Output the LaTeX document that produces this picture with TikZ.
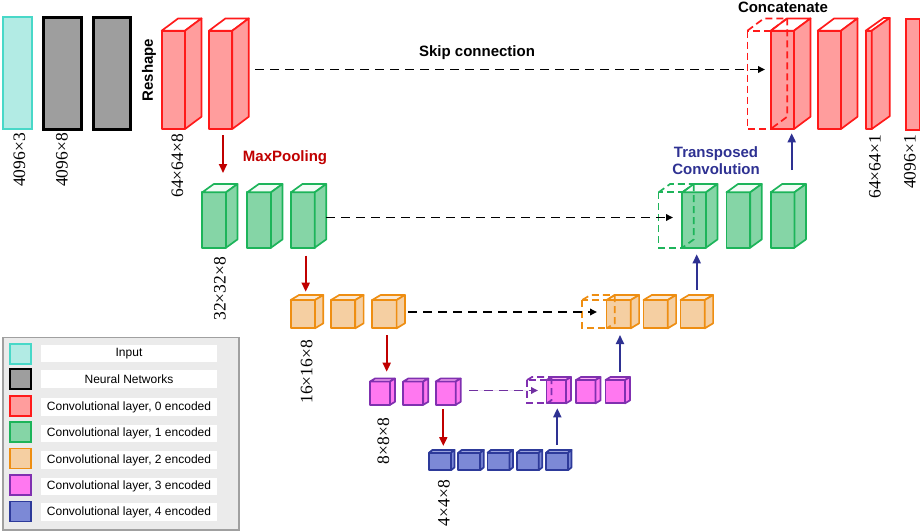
\documentclass[tikz,border=0pt]{standalone}
\usepackage{fontspec}
\setmainfont{Liberation Serif}
\setsansfont{Liberation Sans}
\usetikzlibrary{arrows.meta}
\definecolor{cyanF}{HTML}{B2EBE4}\definecolor{cyanL}{HTML}{48D8C8}
\definecolor{grayF}{HTML}{9E9E9E}\definecolor{grayL}{HTML}{000000}
\definecolor{redF}{HTML}{FF9D9D}\definecolor{redL}{HTML}{FF1A1A}\definecolor{redT}{HTML}{FFFFFF}
\definecolor{greenF}{HTML}{85D5A6}\definecolor{greenL}{HTML}{1DB45A}\definecolor{greenT}{HTML}{F2FBF5}
\definecolor{orangeF}{HTML}{F5CFA2}\definecolor{orangeL}{HTML}{EE8E12}\definecolor{orangeT}{HTML}{FBE9D4}
\definecolor{magF}{HTML}{FF78F0}\definecolor{magL}{HTML}{8030B0}\definecolor{magT}{HTML}{FFB0F6}
\definecolor{blueF}{HTML}{7C89D6}\definecolor{blueL}{HTML}{2D3A9A}\definecolor{blueT}{HTML}{A9B2E6}
\definecolor{arrRed}{HTML}{C00000}
\definecolor{arrBlue}{HTML}{2E3192}
\definecolor{arrPurple}{HTML}{7030A0}
\definecolor{legBg}{HTML}{EBEBEB}\definecolor{legLine}{HTML}{A0A0A0}
\tikzset{
  blkline/.style={line width=1.7pt, line join=round},
  ghostline/.style={line width=1.7pt, dash pattern=on 7pt off 4pt},
  dimlabel/.style={rotate=90, anchor=east, inner sep=0pt, font=\fontsize{17.5}{19}\selectfont},
  boldlabel/.style={inner sep=0pt, font=\sffamily\bfseries\fontsize{15}{17}\selectfont},
  downarrow/.style={arrRed, line width=1.9pt, -{Triangle[length=9pt,width=8pt]}},
  uparrow/.style={arrBlue, line width=1.9pt, -{Triangle[length=9pt,width=8pt]}},
  skiparrow/.style={black, line width=1.8pt, dash pattern=on 8.5pt off 6.5pt, -{Triangle[length=7pt,width=6.5pt]}},
  swatch/.style={minimum width=21pt, minimum height=20pt, inner sep=0pt, line width=1.6pt},
  lbox/.style={fill=white, minimum width=176.6pt, minimum height=17.5pt, inner sep=0pt, font=\sffamily\fontsize{12}{14}\selectfont},
  bar/.style={minimum width=#1, minimum height=112pt, inner sep=0pt, anchor=north west},
}
% 3D block: x y w h dx dy colourprefix
\newcommand{\blk}[7]{%
  \filldraw[blkline, fill=#7F, draw=#7L] (#1,#2) rectangle ++(#3,#4);
  \filldraw[blkline, fill=#7T, draw=#7L] (#1,#2) -- ++(#5,-#6) -- ++(#3,0) -- ++(-#5,#6) -- cycle;
  \filldraw[blkline, fill=#7F, draw=#7L] (#1,#2) ++(#3,0) -- ++(#5,-#6) -- ++(0,#4) -- ++(-#5,#6) -- cycle;
}
% dashed ghost block, shifted left by its width
\newcommand{\ghostblk}[7]{%
  \draw[ghostline, draw=#7L] ({#1-#3},#2) rectangle ++(#3,#4);
  \draw[ghostline, draw=#7L] ({#1-#3},#2) -- ++(#5,-#6) -- ++(#3,0) -- ++(-#5,#6);
  \draw[ghostline, draw=#7L] (#1,#2) ++(#5,-#6) -- ++(0,#4) -- ++(-#5,#6);
}
\begin{document}
\begin{tikzpicture}[x=1pt,y=-1pt]
\useasboundingbox (0,0) rectangle (920,530);

% ---- input and neural network bars
\node[bar=29pt, fill=cyanF, draw=cyanL, line width=1.6pt] (inp) at (2,16) {};
\node[bar=38pt, fill=grayF, draw=grayL, line width=2.6pt] (nn1) at (42,16) {};
\node[bar=37pt, fill=grayF, draw=grayL, line width=2.6pt] (nn2) at (92,16) {};
\node[dimlabel] (l0) at (19.5,133) {4096×3};
\node[dimlabel] (l1) at (62,133) {4096×8};
\node[boldlabel, rotate=90] (reshape) at (149,70) {Reshape};

% ---- encoder
\blk{161.7}{30.7}{23.3}{98.3}{16.5}{12.3}{red}
\blk{209}{30.7}{23.3}{98.3}{16.5}{12.3}{red}
\node[dimlabel] (l2) at (177.5,134) {64×64×8};

\blk{202.3}{192.3}{23.7}{55.4}{11.5}{8.3}{green}
\blk{247.3}{192.3}{23.7}{55.4}{11.5}{8.3}{green}
\blk{291}{192.3}{23.7}{55.4}{11.5}{8.3}{green}
\node[dimlabel] (l3) at (220,257) {32×32×8};

\blk{290.7}{300}{24.3}{28.3}{8.3}{5}{orange}
\blk{331}{300}{24.3}{28.3}{8.3}{5}{orange}
\blk{372.3}{300}{24.3}{28.3}{8.3}{5}{orange}
\node[dimlabel] (l4) at (306.7,340) {16×16×8};

\blk{370}{381.5}{20}{23.3}{5}{3}{mag}
\blk{403.3}{381.5}{20}{23.3}{5}{3}{mag}
\blk{435.7}{381.5}{20}{23.3}{5}{3}{mag}
\node[dimlabel] (l5) at (383.3,418) {8×8×8};

\blk{429}{452.7}{22}{17.5}{3.5}{2.8}{blue}
\blk{458.3}{452.7}{22}{17.5}{3.5}{2.8}{blue}
\blk{487.5}{452.7}{22}{17.5}{3.5}{2.8}{blue}
\blk{516.8}{452.7}{22}{17.5}{3.5}{2.8}{blue}
\blk{546}{452.7}{22}{17.5}{3.5}{2.8}{blue}
\node[dimlabel] (l6) at (444,480) {4×4×8};

% ---- decoder
\blk{546.5}{380}{19.5}{23.3}{5}{3}{mag}
\ghostblk{546.5}{380}{19.5}{23.3}{5}{3}{mag}
\blk{576}{380}{19.5}{23.3}{5}{3}{mag}
\blk{605.5}{380}{19.5}{23.3}{5}{3}{mag}

\blk{606.5}{300}{24.3}{28.3}{8.3}{5}{orange}
\ghostblk{606.5}{300}{24.3}{28.3}{8.3}{5}{orange}
\blk{643.5}{300}{24.3}{28.3}{8.3}{5}{orange}
\blk{680.5}{300}{24.3}{28.3}{8.3}{5}{orange}

\blk{682.3}{192.3}{23.7}{55.4}{11.5}{8.3}{green}
\ghostblk{682.3}{192.3}{23.7}{55.4}{11.5}{8.3}{green}
\blk{726.5}{192.3}{23.7}{55.4}{11.5}{8.3}{green}
\blk{770.7}{192.3}{23.7}{55.4}{11.5}{8.3}{green}

\blk{770.7}{30.7}{23.3}{98.3}{16.5}{12.3}{red}
\ghostblk{770.7}{30.7}{23.3}{98.3}{16.5}{12.3}{red}
\blk{817.7}{30.7}{23.3}{98.3}{16.5}{12.3}{red}
\blk{865.7}{30.7}{6}{98.3}{18}{12.8}{red}
\node[bar=14pt, fill=redF, draw=redL, line width=1.8pt, minimum height=111pt] (outbar) at (905,18.3) {};
\node[dimlabel] (l7) at (875,135) {64×64×1};
\node[dimlabel] (l8) at (910,135) {4096×1};

% ---- text labels
\node[boldlabel] (skiptxt) at (477,53) {Skip connection};
\node[boldlabel] (concat) at (783,7.5) {Concatenate};
\node[boldlabel, text=arrRed] (maxpool) at (285,158) {MaxPooling};
\node[boldlabel, text=arrBlue, align=center] (transp) at (716,161) {Transposed\\Convolution};

% ---- connectors
\coordinate (s1a) at (255,69.5);  \coordinate (s1b) at (765,69.5);
\coordinate (s2a) at (326,217.5); \coordinate (s2b) at (673,217.5);
\coordinate (s3a) at (408,312);   \coordinate (s3b) at (597,312);
\coordinate (s4a) at (469,390.5); \coordinate (s4b) at (538,390.5);
\draw[skiparrow] (s1a) -- (s1b);
\draw[skiparrow] (s2a) -- (s2b);
\draw[skiparrow] (s3a) -- (s3b);
\draw[skiparrow, draw=arrPurple, fill=arrPurple] (s4a) -- (s4b);

\coordinate (d1a) at (223,135);   \coordinate (d1b) at (223,173);
\coordinate (d2a) at (305.7,255.7); \coordinate (d2b) at (305.7,291.7);
\coordinate (d3a) at (386.7,335); \coordinate (d3b) at (386.7,371.7);
\coordinate (d4a) at (443.3,409); \coordinate (d4b) at (443.3,446);
\draw[downarrow] (d1a) -- (d1b);
\draw[downarrow] (d2a) -- (d2b);
\draw[downarrow] (d3a) -- (d3b);
\draw[downarrow] (d4a) -- (d4b);

\coordinate (u1a) at (557.3,445); \coordinate (u1b) at (557.3,408.3);
\coordinate (u2a) at (620,371.7); \coordinate (u2b) at (620,335);
\coordinate (u3a) at (696.7,290); \coordinate (u3b) at (696.7,254.3);
\coordinate (u4a) at (791.7,170); \coordinate (u4b) at (791.7,133.3);
\draw[uparrow] (u1a) -- (u1b);
\draw[uparrow] (u2a) -- (u2b);
\draw[uparrow] (u3a) -- (u3b);
\draw[uparrow] (u4a) -- (u4b);

% ---- legend
\node[draw=legLine, fill=legBg, line width=1.5pt, minimum width=236.3pt, minimum height=192.3pt, inner sep=0pt, anchor=north west] (legend) at (2,336.7) {};
\node[swatch, fill=cyanF, draw=cyanL] (g0) at (20.5,354) {};
\node[swatch, fill=grayF, draw=grayL, line width=2.2pt] (g1) at (20.5,379.3) {};
\node[swatch, fill=redF, draw=redL] (g2) at (20.5,405.8) {};
\node[swatch, fill=greenF, draw=greenL] (g3) at (20.5,432) {};
\node[swatch, fill=orangeF, draw=orangeL] (g4) at (20.5,458.5) {};
\node[swatch, fill=magF, draw=magL] (g5) at (20.5,485) {};
\node[swatch, fill=blueF, draw=blueL] (g6) at (20.5,511.5) {};
\node[lbox] (t0) at (129,353.7) {Input};
\node[lbox] (t1) at (129,379) {Neural Networks};
\node[lbox] (t2) at (129,407) {Convolutional layer, 0 encoded};
\node[lbox] (t3) at (129,433.3) {Convolutional layer, 1 encoded};
\node[lbox] (t4) at (129,460) {Convolutional layer, 2 encoded};
\node[lbox] (t5) at (129,486.7) {Convolutional layer, 3 encoded};
\node[lbox] (t6) at (129,512) {Convolutional layer, 4 encoded};
\end{tikzpicture}
\end{document}
